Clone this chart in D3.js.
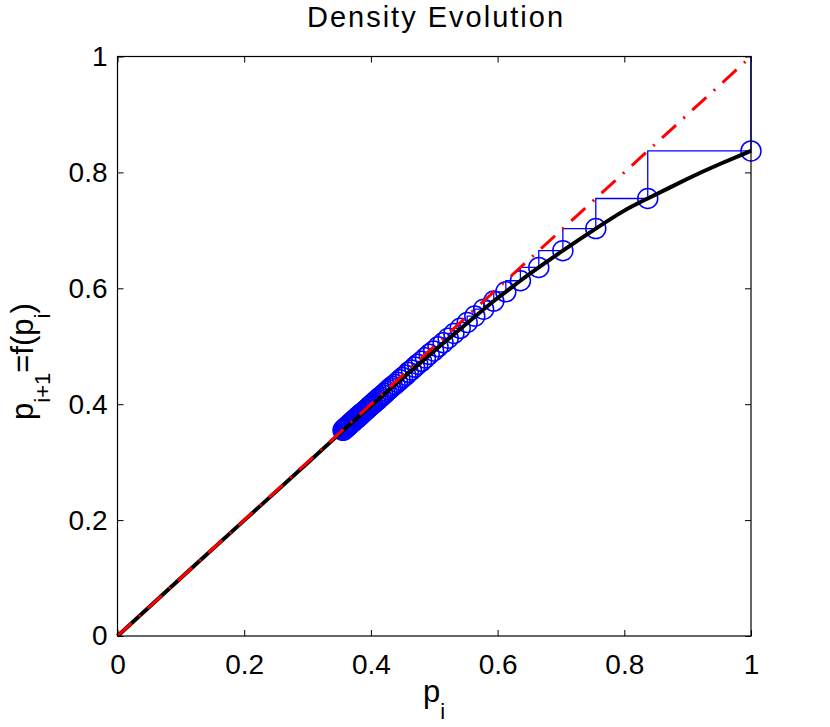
<!DOCTYPE html>
<html><head><meta charset="utf-8">
<script src="https://cdn.jsdelivr.net/npm/d3@7"></script>
<style>body{margin:0;background:#fff}svg{display:block}text{font-family:"Liberation Sans",Arial,sans-serif}</style>
</head><body>
<script>
// Data
const tickValues = [0, 0.2, 0.4, 0.6, 0.8, 1];
const tickLabels = ["0", "0.2", "0.4", "0.6", "0.8", "1"];
// black curve f(p)
const curveP = [0, 0.1, 0.2, 0.3, 0.355, 0.4, 0.45, 0.5, 0.55, 0.594, 0.613, 0.636, 0.665, 0.703, 0.755, 0.8, 0.837, 0.9, 0.95, 1.0];
const curveF = [0, 0.1, 0.1995, 0.2985, 0.3535, 0.397, 0.445, 0.492, 0.538, 0.578, 0.594, 0.613, 0.636, 0.665, 0.703, 0.734, 0.755, 0.789, 0.814, 0.837];
// iterates p_i of density evolution (staircase), starting at p0 = 1
const iterates = [1, 0.837, 0.755, 0.703, 0.665, 0.636, 0.613, 0.594, 0.578, 0.564, 0.552, 0.541, 0.531, 0.522,
  0.514, 0.506, 0.499, 0.492, 0.486, 0.480, 0.474, 0.469, 0.464, 0.459, 0.455, 0.450, 0.446, 0.442, 0.438,
  0.434, 0.431, 0.428, 0.425, 0.422, 0.419, 0.416, 0.413, 0.411, 0.408, 0.406, 0.403, 0.401, 0.399, 0.397,
  0.395, 0.393, 0.391, 0.389, 0.387, 0.385, 0.384, 0.382, 0.380, 0.379, 0.377, 0.376, 0.374, 0.373, 0.372,
  0.370, 0.369, 0.368, 0.367, 0.366, 0.365, 0.364, 0.363, 0.362, 0.361, 0.360, 0.359, 0.358, 0.357, 0.356, 0.355];
const diagonal = [0, 1];

const W = 830, H = 727;
const mLeft = 117.5, mTop = 56.5, pw = 633.5, ph = 579.5;
const svg = d3.select("body").append("svg").attr("width", W).attr("height", H);
const x = d3.scaleLinear().domain([0, 1]).range([mLeft, mLeft + pw]);
const y = d3.scaleLinear().domain([0, 1]).range([mTop + ph, mTop]);

const g = svg.append("g");
// axes
const fmt = (d) => tickLabels[tickValues.indexOf(d)];
const ax = (a, pad) => a.tickValues(tickValues).tickSizeInner(-6).tickSizeOuter(0).tickPadding(pad).tickFormat(fmt);
const styleAxis = (sel, showLabels) => {
  sel.select(".domain").remove();
  sel.selectAll("line").attr("stroke", "#000").attr("stroke-width", 1);
  sel.selectAll("text").attr("font-size", 28).attr("fill", "#000");
  if (!showLabels) sel.selectAll("text").remove();
};
g.append("g").attr("transform", `translate(0,${mTop + ph})`).call(ax(d3.axisBottom(x), 18)).call(s => styleAxis(s, true));
g.append("g").attr("transform", `translate(0,${mTop})`).call(ax(d3.axisTop(x), 10)).call(s => styleAxis(s, false));
g.append("g").attr("transform", `translate(${mLeft},0)`).call(ax(d3.axisLeft(y), 10)).call(s => styleAxis(s, true));
g.append("g").attr("transform", `translate(${mLeft + pw},0)`).call(ax(d3.axisRight(y), 10)).call(s => styleAxis(s, false));

const plot = svg.append("g");
// staircase
const stair = [[iterates[0], iterates[0]]];
for (let i = 0; i < iterates.length - 1; i++) {
  stair.push([iterates[i], iterates[i + 1]]);
  stair.push([iterates[i + 1], iterates[i + 1]]);
}
const line = d3.line().x(d => x(d[0])).y(d => y(d[1]));
plot.append("path").datum(stair).attr("d", line).attr("fill", "none").attr("stroke", "#0000ff").attr("stroke-width", 1.3);
plot.selectAll("circle.pt").data(d3.range(iterates.length - 1)).join("circle")
  .attr("cx", i => x(iterates[i])).attr("cy", i => y(iterates[i + 1])).attr("r", 10)
  .attr("fill", "none").attr("stroke", "#0000ff").attr("stroke-width", 1.5);
// curve
plot.append("path").datum(curveP.map((p, i) => [p, curveF[i]])).attr("d", d3.line().curve(d3.curveNatural).x(d => x(d[0])).y(d => y(d[1])))
  .attr("fill", "none").attr("stroke", "#000").attr("stroke-width", 4);
// diagonal
plot.append("path").datum(diagonal.map(v => [v, v])).attr("d", line)
  .attr("fill", "none").attr("stroke", "#ff0000").attr("stroke-width", 3).attr("stroke-dasharray", "19,10,2,10");

// box
svg.append("rect").attr("x", mLeft).attr("y", mTop).attr("width", pw).attr("height", ph)
  .attr("fill", "none").attr("stroke", "#000").attr("stroke-width", 1.2);

// title & labels
svg.append("text").attr("x", 436).attr("y", 27).attr("text-anchor", "middle").attr("font-size", 29)
  .attr("letter-spacing", 2).text("Density Evolution");
const xl = svg.append("text").attr("x", 423).attr("y", 702).attr("font-size", 31);
xl.append("tspan").text("p");
xl.append("tspan").attr("font-size", 22).attr("dy", 17).text("i");
const yl = svg.append("text").attr("transform", `translate(33,420) rotate(-90)`).attr("font-size", 31);
yl.append("tspan").text("p");
yl.append("tspan").attr("font-size", 22).attr("dy", 17).text("i+1");
yl.append("tspan").attr("dy", -17).text("=f(p");
yl.append("tspan").attr("font-size", 22).attr("dy", 17).text("i");
yl.append("tspan").attr("dy", -17).text(")");
</script>
</body></html>
